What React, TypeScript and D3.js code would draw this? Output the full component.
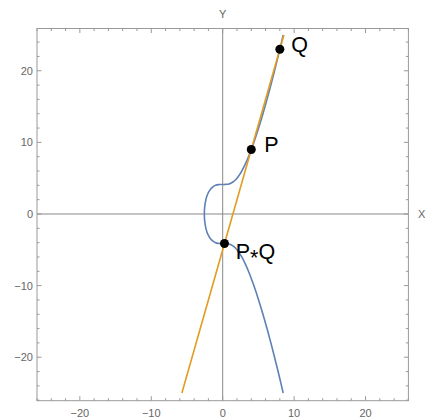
import React from "react";
import * as d3 from "d3";

const curveY = [-25, -24, -22, -20, -18, -16, -14, -12, -10, -9, -8, -7, -6, -5.5, -5, -4.75, -4.5, -4.3, -4.2, -4.15, -4.13, -4.123, -4.115, -4.1, -4.0, -3.8, -3.5, -3, -2.5, -2, -1, 0,
  1, 2, 2.5, 3, 3.5, 3.8, 4.0, 4.1, 4.115, 4.123, 4.13, 4.15, 4.2, 4.3, 4.5, 4.75, 5, 5.5, 6, 7, 8, 9, 10, 12, 14, 16, 18, 20, 22, 24, 25];
const curveX = [8.47, 8.237, 7.757, 7.26, 6.746, 6.205, 5.635, 5.027, 4.362, 4.0, 3.609, 3.175, 2.668, 2.366, 2.0, 1.772, 1.481, 1.142, 0.862, 0.606, 0.385, 0, -0.406, -0.575, -1.0, -1.368, -1.681, -2.0, -2.207, -2.351, -2.52, -2.571,
  -2.52, -2.351, -2.207, -2.0, -1.681, -1.368, -1.0, -0.575, -0.406, 0, 0.385, 0.606, 0.862, 1.142, 1.481, 1.772, 2.0, 2.366, 2.668, 3.175, 3.609, 4.0, 4.362, 5.027, 5.635, 6.205, 6.746, 7.26, 7.757, 8.237, 8.47];

// Secant line through P and Q
const lineX = [-5.714, 8.571];
const lineY = [-25, 25];

const pointNames = ["Q", "P", "P*Q"];
const pointX = [8, 4, 0.25];
const pointY = [23, 9, -4.125];

const xTicks = [-20, -10, 0, 10, 20];
const yTicks = [-20, -10, 0, 10, 20];

export default function App() {
  const W = 425, H = 419;
  const x = d3.scaleLinear().domain([-26, 26]).range([37, 408.4]);
  const y = d3.scaleLinear().domain([-26.07, 25.9]).range([400.7, 28.5]);
  const [x0, x1] = x.range();
  const [y0, y1] = y.range();

  const curvePts: [number, number][] = curveY.map((yy, i) => [curveX[i], yy]);
  const curvePath = d3.line<[number, number]>().x(d => x(d[0])).y(d => y(d[1])).curve(d3.curveCatmullRom)(curvePts) || "";
  const linePts: [number, number][] = lineX.map((xx, i) => [xx, lineY[i]]);
  const linePath = d3.line<[number, number]>().x(d => x(d[0])).y(d => y(d[1]))(linePts) || "";

  const minorX = d3.range(-26, 27, 2).filter(v => v % 10 !== 0);
  const minorY = d3.range(-26, 26, 2).filter(v => v % 10 !== 0);

  const frame = "#9a9a9a";
  const tickCol = "#999";
  const labelCol = "#666";
  const font = "'Liberation Sans', Arial, sans-serif";

  const labelOffsets: [number, number][] = [[11.5, 3], [13, 2.2], [11.2, 15.5]];

  return (
    <svg width={W} height={H} style={{ position: "absolute", left: 0, top: 0, background: "#fff" }}>
      {/* axes through origin */}
      <line x1={x(0)} x2={x(0)} y1={y1} y2={y0} stroke="#888" strokeWidth={1} />
      <line x1={x0} x2={x1} y1={y(0)} y2={y(0)} stroke="#888" strokeWidth={1} />

      {/* frame */}
      <rect x={x0} y={y1} width={x1 - x0} height={y0 - y1} fill="none" stroke={frame} strokeWidth={1} />

      {/* ticks */}
      {xTicks.map(v => (
        <g key={"xt" + v}>
          <line x1={x(v)} x2={x(v)} y1={y0} y2={y0 - 4.5} stroke={tickCol} />
          <line x1={x(v)} x2={x(v)} y1={y1} y2={y1 + 4.5} stroke={tickCol} />
          <text x={x(v)} y={y0 + 16} textAnchor="middle" fontFamily={font} fontSize={11} fill={labelCol}>
            {v < 0 ? "−" + Math.abs(v) : String(v)}
          </text>
        </g>
      ))}
      {minorX.map(v => (
        <g key={"xm" + v}>
          <line x1={x(v)} x2={x(v)} y1={y0} y2={y0 - 2.5} stroke={tickCol} />
          <line x1={x(v)} x2={x(v)} y1={y1} y2={y1 + 2.5} stroke={tickCol} />
        </g>
      ))}
      {yTicks.map(v => (
        <g key={"yt" + v}>
          <line x1={x0} x2={x0 + 4.5} y1={y(v)} y2={y(v)} stroke={tickCol} />
          <line x1={x1} x2={x1 - 4.5} y1={y(v)} y2={y(v)} stroke={tickCol} />
          <text x={x0 - 4} y={y(v) + 4} textAnchor="end" fontFamily={font} fontSize={11} fill={labelCol}>
            {v < 0 ? "−" + Math.abs(v) : String(v)}
          </text>
        </g>
      ))}
      {minorY.map(v => (
        <g key={"ym" + v}>
          <line x1={x0} x2={x0 + 2.5} y1={y(v)} y2={y(v)} stroke={tickCol} />
          <line x1={x1} x2={x1 - 2.5} y1={y(v)} y2={y(v)} stroke={tickCol} />
        </g>
      ))}

      {/* axis labels */}
      <text x={x(0)} y={18} textAnchor="middle" fontFamily={font} fontSize={11} fill={labelCol}>Y</text>
      <text x={418} y={y(0) + 4} fontFamily={font} fontSize={11} fill={labelCol}>X</text>

      {/* curve and line */}
      <path d={curvePath} fill="none" stroke="#5E81B5" strokeWidth={1.6} />
      <path d={linePath} fill="none" stroke="#E19C24" strokeWidth={1.6} />

      {/* points */}
      {pointNames.map((n, i) => (
        <g key={n}>
          <circle cx={x(pointX[i])} cy={y(pointY[i])} r={4.5} fill="#000" />
          <text x={x(pointX[i]) + labelOffsets[i][0]} y={y(pointY[i]) + labelOffsets[i][1]} fontFamily={font} fontSize={21.5} fill="#000">
            {n === "P*Q" ? (<><tspan>P</tspan><tspan dy={5.5}>*</tspan><tspan dy={-5.5}>Q</tspan></>) : n}
          </text>
        </g>
      ))}
    </svg>
  );
}
